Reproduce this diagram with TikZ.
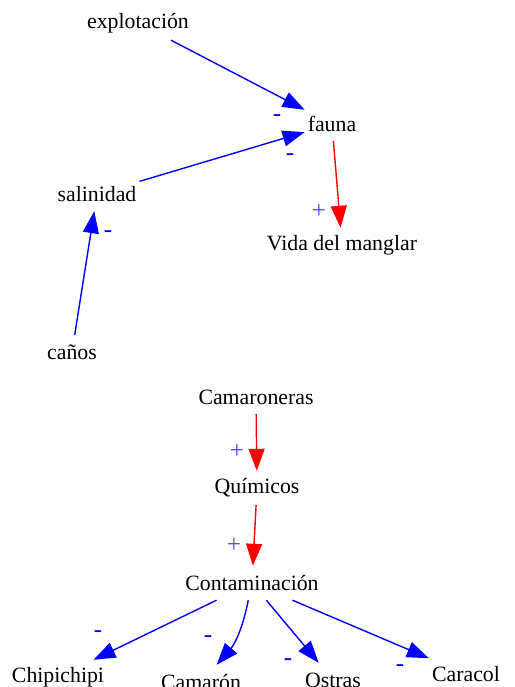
\documentclass[tikz,border=0pt]{standalone}
\usepackage{fontspec}
\setmainfont{Liberation Serif}
\usetikzlibrary{arrows.meta}
\definecolor{posc}{RGB}{70,70,255}
\tikzset{
  box/.style={rectangle, inner xsep=3pt, inner ysep=0pt, minimum height=34pt, minimum width=52pt, font=\fontsize{21.8pt}{24pt}\selectfont, text=black},
  negarrow/.style={draw=blue, line width=1.4pt, -{Triangle[length=22pt,width=16pt]}},
  posarrow/.style={draw=red, line width=1.4pt, -{Triangle[length=22pt,width=16pt]}},
  nlbl/.style={text=blue, inner sep=0pt, font=\fontsize{25pt}{26pt}\selectfont},
  plbl/.style={text=posc, inner sep=0pt, font=\fontsize{25pt}{26pt}\selectfont}
}
\begin{document}
\begin{tikzpicture}[x=1pt,y=-1pt]
\useasboundingbox (0,0) rectangle (514,687);
% nodes
\node[box] (explotacion) at (138,23) {explotación};
\node[box] (fauna) at (332,124) {fauna};
\node[box] (salinidad) at (97,194) {salinidad};
\node[box] (vida) at (342,245) {Vida del manglar};
\node[box] (canos) at (72,352) {caños};
\node[box] (camaroneras) at (256,397) {Camaroneras};
\node[box] (quimicos) at (257,488) {Químicos};
\node[box] (contaminacion) at (252,583) {Contaminación};
\node[box] (chipichipi) at (58,677) {Chipichipi};
\node[box] (camaron) at (201,682) {Camarón};
\node[box] (ostras) at (333,680) {Ostras};
\node[box] (caracol) at (466,674) {Caracol};
% edges
\draw[negarrow] (explotacion) -- (fauna);
\draw[negarrow] (salinidad) -- (fauna);
\draw[posarrow] (fauna) -- (vida);
\draw[negarrow] (canos) -- (salinidad);
\draw[posarrow] (camaroneras) -- (quimicos);
\draw[posarrow] (quimicos) -- (contaminacion);
\draw[negarrow] (contaminacion) -- (chipichipi);
\draw[negarrow] (contaminacion) to[bend left=15] (camaron);
\draw[negarrow] (contaminacion) -- (ostras);
\draw[negarrow] (contaminacion) -- (caracol);
% labels
\node[nlbl] (l1) at (277,118) {-};
\node[nlbl] (l2) at (290,157) {-};
\node[plbl] (l3) at (319,211) {+};
\node[nlbl] (l4) at (108,234) {-};
\node[plbl] (l5) at (237,451) {+};
\node[plbl] (l6) at (234,545) {+};
\node[nlbl] (l7) at (98,634) {-};
\node[nlbl] (l8) at (208,639) {-};
\node[nlbl] (l9) at (288,662) {-};
\node[nlbl] (l10) at (400,668) {-};
\end{tikzpicture}
\end{document}
